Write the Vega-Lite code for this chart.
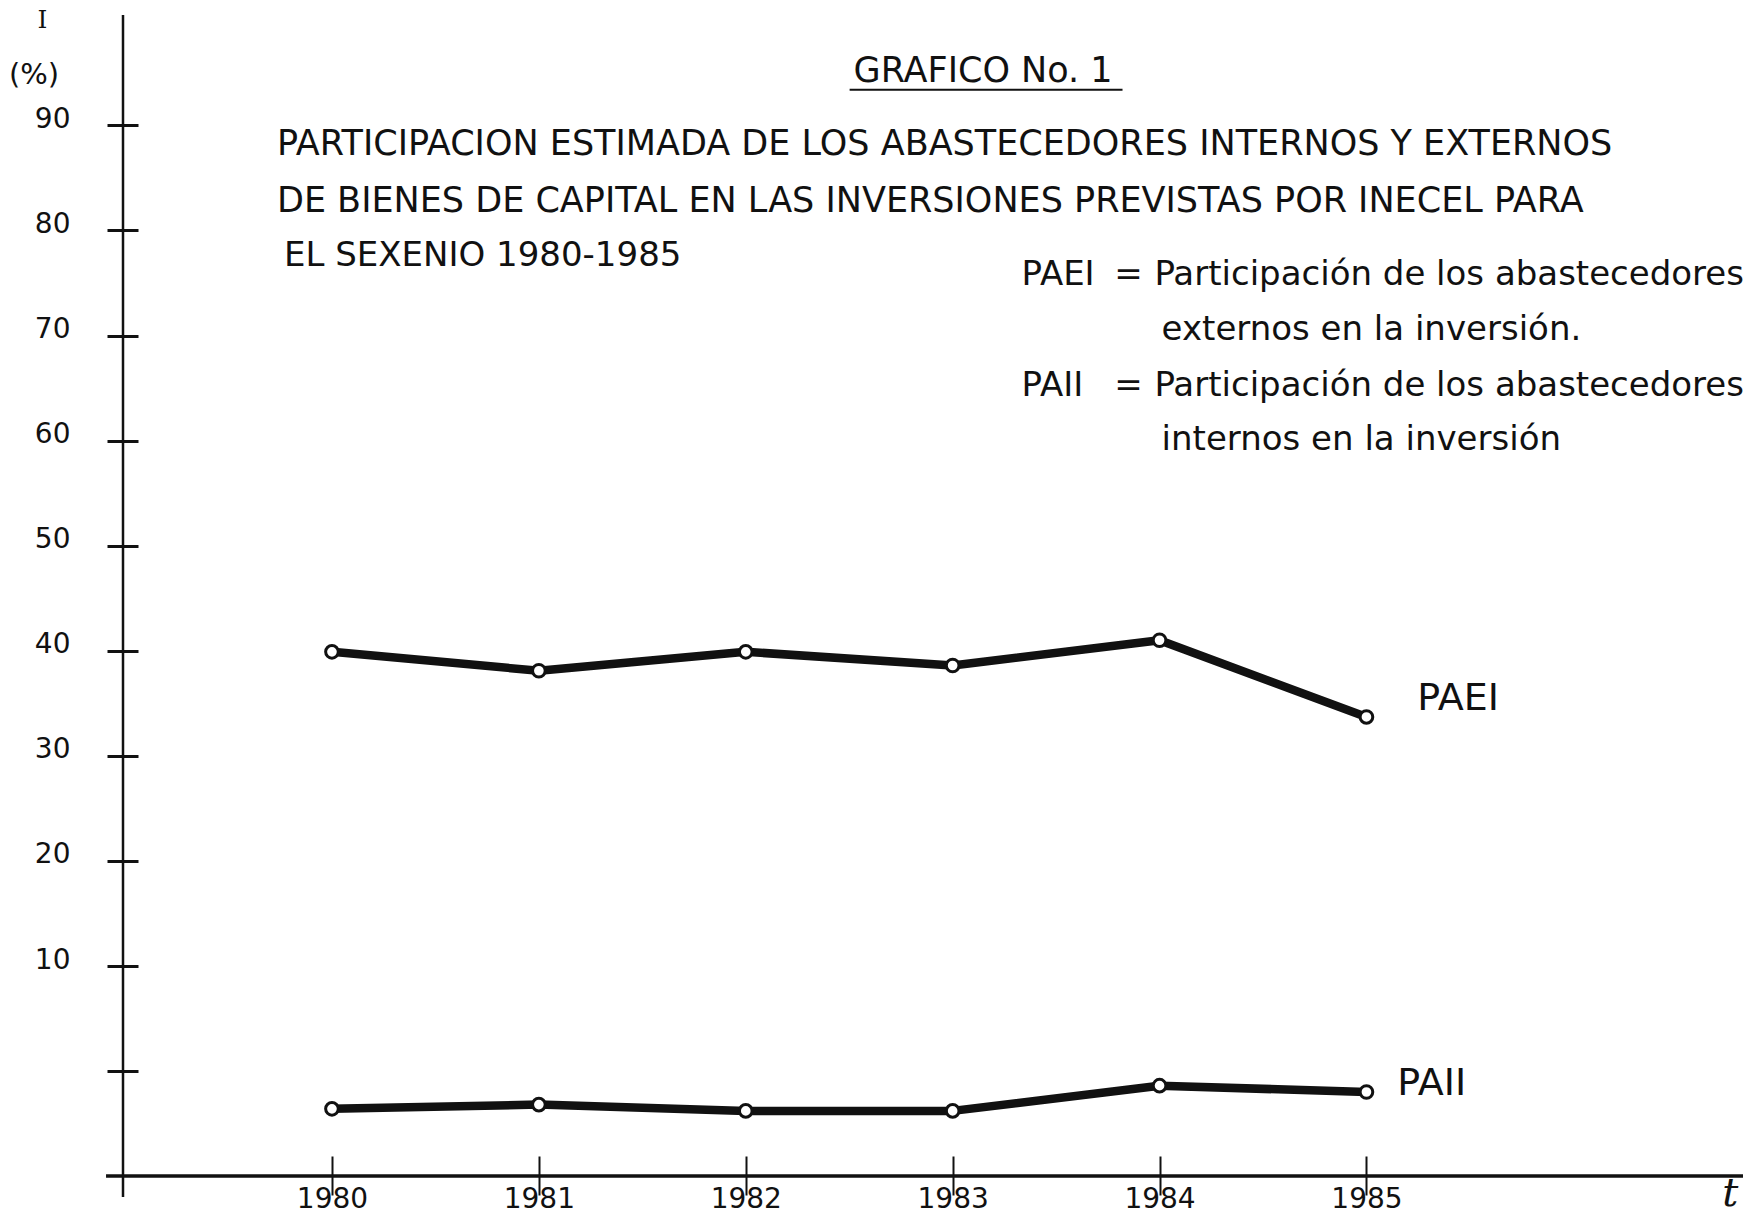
{
  "$schema": "https://vega.github.io/schema/vega-lite/v6.json",
  "autosize": "none",
  "width": 1620,
  "height": 1161,
  "padding": {"left": 123, "top": 15, "right": 15, "bottom": 40},
  "background": "white",
  "config": {"view": {"stroke": null}, "font": "DejaVu Sans"},
  "data": {"values": [
    {"year": 1980, "series": "PAEI", "value": 39.9},
    {"year": 1981, "series": "PAEI", "value": 38.1},
    {"year": 1982, "series": "PAEI", "value": 39.9},
    {"year": 1983, "series": "PAEI", "value": 38.6},
    {"year": 1984, "series": "PAEI", "value": 41.0},
    {"year": 1985, "series": "PAEI", "value": 33.7},
    {"year": 1980, "series": "PAII", "value": 3.2},
    {"year": 1981, "series": "PAII", "value": 3.4},
    {"year": 1982, "series": "PAII", "value": 3.1},
    {"year": 1983, "series": "PAII", "value": 3.1},
    {"year": 1984, "series": "PAII", "value": 4.3},
    {"year": 1985, "series": "PAII", "value": 4.0}
  ]},
  "layer": [
    {
      "mark": {"type": "line", "strokeWidth": 8.5, "color": "#111", "strokeJoin": "round"},
      "encoding": {
        "x": {"field": "year", "type": "quantitative",
          "scale": {"domain": [1978.99, 1986.82], "nice": false, "zero": false},
          "axis": {"orient": "bottom", "values": [1980, 1981, 1982, 1983, 1984, 1985], "format": "d", "domain": false, "grid": false, "title": null,
            "tickSize": 19, "tickWidth": 2, "tickColor": "#111", "labelFont": "DejaVu Sans", "labelFontSize": 28, "labelColor": "#111", "labelBaseline": "alphabetic", "labelPadding": 12}},
        "y": {"field": "value", "type": "quantitative",
          "scale": {"domain": [0, 10, 100.5], "range": [1161, 951, 0], "nice": false, "zero": false},
          "axis": {"orient": "left", "values": [5, 10, 20, 30, 40, 50, 60, 70, 80, 90], "labelExpr": "datum.value == 5 ? '' : datum.label", "domain": false, "grid": false, "title": null,
            "tickSize": 16, "tickWidth": 3, "tickColor": "#111", "labelFont": "DejaVu Sans", "labelFontSize": 28, "labelColor": "#111", "labelPadding": 37, "labelOffset": -6}},
        "detail": {"field": "series"}
      }
    },
    {
      "mark": {"type": "point", "shape": "circle", "filled": true, "fill": "white", "stroke": "#111", "strokeWidth": 3, "size": 160, "opacity": 1},
      "encoding": {
        "x": {"field": "year", "type": "quantitative",
          "axis": {"orient": "top", "offset": -1161, "values": [1980, 1981, 1982, 1983, 1984, 1985], "domain": false, "labels": false, "grid": false, "title": null, "tickSize": 20, "tickWidth": 2, "tickColor": "#111"}},
        "y": {"field": "value", "type": "quantitative",
          "axis": {"orient": "right", "offset": -1620, "values": [5, 10, 20, 30, 40, 50, 60, 70, 80, 90], "domain": false, "labels": false, "grid": false, "title": null, "tickSize": 15, "tickWidth": 3, "tickColor": "#111"}}
      }
    },
    {
      "data": {"values": [{}]},
      "mark": {"type": "rule", "color": "#111", "strokeWidth": 2.5},
      "encoding": {"x": {"datum": 1978.99, "type": "quantitative", "axis": null}, "y": {"datum": 100.5, "type": "quantitative", "axis": null}, "y2": {"datum": -1.0}}
    },
    {
      "data": {"values": [{}]},
      "mark": {"type": "rule", "color": "#111", "strokeWidth": 3.5},
      "encoding": {"x": {"datum": 1978.908, "type": "quantitative", "axis": null}, "x2": {"datum": 1986.82}, "y": {"datum": 0, "type": "quantitative", "axis": null}}
    },
    {
      "data": {"values": [{}]},
      "mark": {"type": "rule", "color": "#111", "strokeWidth": 2},
      "encoding": {"x": {"datum": 1982.502, "type": "quantitative", "axis": null}, "x2": {"datum": 1983.821}, "y": {"datum": 93.39, "type": "quantitative", "axis": null}}
    },
    {
      "data": {"values": [{}]},
      "mark": {"type": "text", "text": "GRAFICO No. 1", "align": "left", "baseline": "alphabetic", "font": "DejaVu Sans", "fontSize": 35, "color": "#111"},
      "encoding": {"x": {"datum": 1982.521, "type": "quantitative", "axis": null}, "y": {"datum": 94.17, "type": "quantitative", "axis": null}}
    },
    {
      "data": {"values": [{}]},
      "mark": {"type": "text", "text": "PARTICIPACION ESTIMADA DE LOS ABASTECEDORES INTERNOS Y EXTERNOS", "align": "left", "baseline": "alphabetic", "font": "DejaVu Sans", "fontSize": 35, "color": "#111"},
      "encoding": {"x": {"datum": 1979.734, "type": "quantitative", "axis": null}, "y": {"datum": 87.13, "type": "quantitative", "axis": null}}
    },
    {
      "data": {"values": [{}]},
      "mark": {"type": "text", "text": "DE BIENES DE CAPITAL EN LAS INVERSIONES PREVISTAS POR INECEL PARA", "align": "left", "baseline": "alphabetic", "font": "DejaVu Sans", "fontSize": 35, "color": "#111"},
      "encoding": {"x": {"datum": 1979.734, "type": "quantitative", "axis": null}, "y": {"datum": 81.78, "type": "quantitative", "axis": null}}
    },
    {
      "data": {"values": [{}]},
      "mark": {"type": "text", "text": "EL SEXENIO 1980-1985", "align": "left", "baseline": "alphabetic", "font": "DejaVu Sans", "fontSize": 34, "color": "#111"},
      "encoding": {"x": {"datum": 1979.768, "type": "quantitative", "axis": null}, "y": {"datum": 76.66, "type": "quantitative", "axis": null}}
    },
    {
      "data": {"values": [{}]},
      "mark": {"type": "text", "text": "PAEI", "align": "left", "baseline": "alphabetic", "font": "DejaVu Sans", "fontSize": 34, "color": "#111"},
      "encoding": {"x": {"datum": 1983.333, "type": "quantitative", "axis": null}, "y": {"datum": 74.83, "type": "quantitative", "axis": null}}
    },
    {
      "data": {"values": [{}]},
      "mark": {"type": "text", "text": "=", "align": "center", "baseline": "alphabetic", "font": "DejaVu Sans", "fontSize": 34, "color": "#111"},
      "encoding": {"x": {"datum": 1983.85, "type": "quantitative", "axis": null}, "y": {"datum": 74.83, "type": "quantitative", "axis": null}}
    },
    {
      "data": {"values": [{}]},
      "mark": {"type": "text", "text": "Participación de los abastecedores", "align": "left", "baseline": "alphabetic", "font": "DejaVu Sans", "fontSize": 34, "color": "#111"},
      "encoding": {"x": {"datum": 1983.975, "type": "quantitative", "axis": null}, "y": {"datum": 74.83, "type": "quantitative", "axis": null}}
    },
    {
      "data": {"values": [{}]},
      "mark": {"type": "text", "text": "externos  en la inversión.", "align": "left", "baseline": "alphabetic", "font": "DejaVu Sans", "fontSize": 34, "color": "#111"},
      "encoding": {"x": {"datum": 1984.01, "type": "quantitative", "axis": null}, "y": {"datum": 69.59, "type": "quantitative", "axis": null}}
    },
    {
      "data": {"values": [{}]},
      "mark": {"type": "text", "text": "PAII", "align": "left", "baseline": "alphabetic", "font": "DejaVu Sans", "fontSize": 34, "color": "#111"},
      "encoding": {"x": {"datum": 1983.333, "type": "quantitative", "axis": null}, "y": {"datum": 64.26, "type": "quantitative", "axis": null}}
    },
    {
      "data": {"values": [{}]},
      "mark": {"type": "text", "text": "=", "align": "center", "baseline": "alphabetic", "font": "DejaVu Sans", "fontSize": 34, "color": "#111"},
      "encoding": {"x": {"datum": 1983.85, "type": "quantitative", "axis": null}, "y": {"datum": 64.26, "type": "quantitative", "axis": null}}
    },
    {
      "data": {"values": [{}]},
      "mark": {"type": "text", "text": "Participación de los abastecedores", "align": "left", "baseline": "alphabetic", "font": "DejaVu Sans", "fontSize": 34, "color": "#111"},
      "encoding": {"x": {"datum": 1983.975, "type": "quantitative", "axis": null}, "y": {"datum": 64.26, "type": "quantitative", "axis": null}}
    },
    {
      "data": {"values": [{}]},
      "mark": {"type": "text", "text": "internos en la inversión", "align": "left", "baseline": "alphabetic", "font": "DejaVu Sans", "fontSize": 34, "color": "#111"},
      "encoding": {"x": {"datum": 1984.01, "type": "quantitative", "axis": null}, "y": {"datum": 59.12, "type": "quantitative", "axis": null}}
    },
    {
      "data": {"values": [{}]},
      "mark": {"type": "text", "text": "PAEI", "align": "left", "baseline": "alphabetic", "font": "DejaVu Sans", "fontSize": 38, "color": "#111"},
      "encoding": {"x": {"datum": 1985.246, "type": "quantitative", "axis": null}, "y": {"datum": 34.37, "type": "quantitative", "axis": null}}
    },
    {
      "data": {"values": [{}]},
      "mark": {"type": "text", "text": "PAII", "align": "left", "baseline": "alphabetic", "font": "DejaVu Sans", "fontSize": 38, "color": "#111"},
      "encoding": {"x": {"datum": 1985.149, "type": "quantitative", "axis": null}, "y": {"datum": 3.857, "type": "quantitative", "axis": null}}
    },
    {
      "data": {"values": [{}]},
      "mark": {"type": "text", "text": "t", "align": "left", "baseline": "bottom", "font": "DejaVu Serif", "fontStyle": "italic", "fontSize": 40, "color": "#111"},
      "encoding": {"x": {"datum": 1986.72, "type": "quantitative", "axis": null}, "y": {"datum": -1.8, "type": "quantitative", "axis": null}}
    },
    {
      "data": {"values": [{}]},
      "mark": {"type": "text", "text": "I", "align": "center", "baseline": "alphabetic", "font": "DejaVu Serif", "fontSize": 25, "color": "#111"},
      "encoding": {"x": {"datum": 1978.601, "type": "quantitative", "axis": null}, "y": {"datum": 99.29, "type": "quantitative", "axis": null}}
    },
    {
      "data": {"values": [{}]},
      "mark": {"type": "text", "text": "(%)", "align": "center", "baseline": "alphabetic", "font": "DejaVu Sans", "fontSize": 29, "color": "#111"},
      "encoding": {"x": {"datum": 1978.56, "type": "quantitative", "axis": null}, "y": {"datum": 93.96, "type": "quantitative", "axis": null}}
    }
  ],
  "resolve": {"axis": {"x": "independent", "y": "independent"}}
}
